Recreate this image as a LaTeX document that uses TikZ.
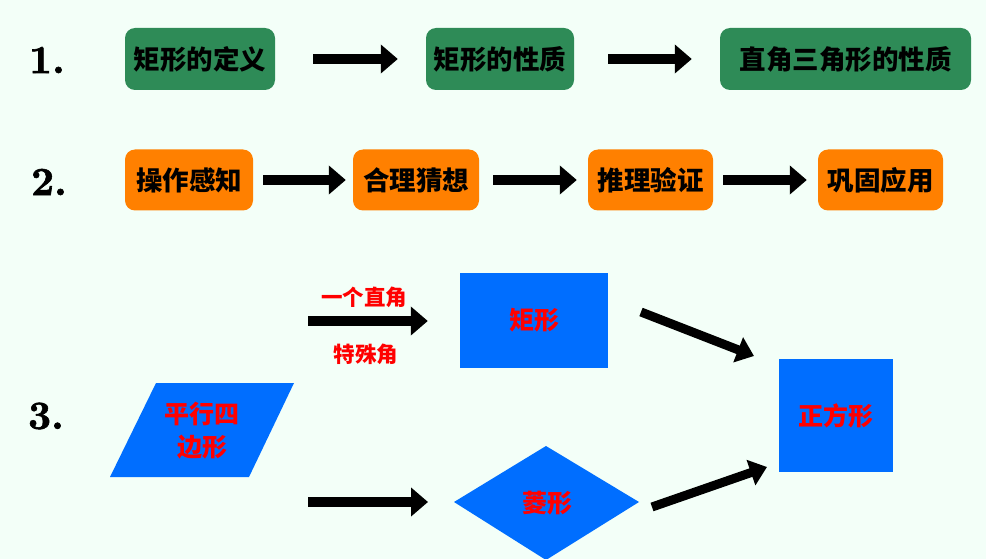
\documentclass[tikz,border=0pt]{standalone}
\usepackage{fontspec}
\newfontfamily\cjk{Noto Sans CJK SC}
\newfontfamily\numfont{lmroman10-bold.otf}[FakeBold=1.5]
\usetikzlibrary{arrows.meta}
\definecolor{bgc}{HTML}{F3FFF8}
\definecolor{gbox}{HTML}{2E8B57}
\definecolor{obox}{HTML}{FF8000}
\definecolor{bbox}{HTML}{006EFF}
\definecolor{rtxt}{HTML}{FF0000}
\begin{document}
\begin{tikzpicture}[x=1pt,y=-1pt,
  greenbox/.style={fill=gbox,rounded corners=10pt,inner sep=0pt,minimum height=62pt,font=\cjk\bfseries\fontsize{26.5}{30}\selectfont,text=black},
  orangebox/.style={fill=obox,rounded corners=10pt,inner sep=0pt,minimum height=61pt,minimum width=127pt,font=\cjk\bfseries\fontsize{26.5}{30}\selectfont,text=black},
  redlabel/.style={font=\cjk\bfseries\fontsize{25}{33}\selectfont,text=rtxt,align=center},
  smalllabel/.style={font=\cjk\bfseries\fontsize{21.5}{24}\selectfont,text=rtxt},
  numlabel/.style={font=\numfont\fontsize{40}{44}\selectfont,text=black},
  arr/.style={line width=10pt,-{Triangle[width=28pt,length=17pt]}},
  darr/.style={line width=9pt,-{Triangle[width=26pt,length=17pt]}}]
\fill[bgc] (0,0) rectangle (986,559);
\useasboundingbox (0,0) rectangle (986,559);

% numbers
\node[numlabel] (n1) at (47,60) {1.};
\node[numlabel] (n2) at (49,182) {2.};
\node[numlabel] (n3) at (46,416) {3.};

% row 1
\node[greenbox,minimum width=150pt] (a1) at (200,59) {矩形的定义};
\node[greenbox,minimum width=148pt] (a2) at (500,59) {矩形的性质};
\node[greenbox,minimum width=251pt] (a3) at (845.5,59) {直角三角形的性质};
\draw[arr,shorten <=38pt,shorten >=28pt] (a1.east) -- (a2.west);
\draw[arr,shorten <=34pt,shorten >=28pt] (a2.east) -- (a3.west);

% row 2
\node[orangebox,minimum width=128pt] (b1) at (189,180) {操作感知};
\node[orangebox,minimum width=126pt] (b2) at (416,180) {合理猜想};
\node[orangebox,minimum width=125pt] (b3) at (650.5,180) {推理验证};
\node[orangebox,minimum width=125pt] (b4) at (880.5,180) {巩固应用};
\draw[arr,shorten <=10pt,shorten >=7pt] (b1.east) -- (b2.west);
\draw[arr,shorten <=14pt,shorten >=11pt] (b2.east) -- (b3.west);
\draw[arr,shorten <=10pt,shorten >=11pt] (b3.east) -- (b4.west);

% row 3 shapes
\fill[bbox] (110,477) -- (156,383) -- (294,383) -- (249,477) -- cycle;
\node[redlabel] (para) at (202,431) {平行四\\边形};

\node[fill=bbox,minimum width=148pt,minimum height=95pt,inner sep=0pt] (rect) at (534,320.5) {};
\node[redlabel] (rectt) at (rect.center) {矩形};

\fill[bbox] (454,502) -- (546,446) -- (639,502) -- (546,560) -- cycle;
\coordinate (diaW) at (454,502);
\coordinate (diaE) at (639,502);
\node[redlabel] (dia) at (547,503) {菱形};

\node[fill=bbox,minimum width=114pt,minimum height=113pt,inner sep=0pt] (sq) at (836,415.5) {};
\node[redlabel] (sqt) at (sq.center) {正方形};

% row 3 arrows
\coordinate (t1) at (308,321);
\coordinate (t2) at (308,502);
\draw[arr,shorten >=32pt] (t1) -- (t1 -| rect.west);
\draw[arr,shorten >=26pt] (t2) -- (diaW);
\node[smalllabel] (l1) at (364,297) {一个直角};
\node[smalllabel] (l2) at (366,354) {特殊角};

\coordinate (d1s) at (641,312);
\coordinate (d1e) at (754,356);
\coordinate (d2s) at (652,507);
\coordinate (d2e) at (767,467);
\draw[darr] (d1s) -- (d1e);
\draw[darr] (d2s) -- (d2e);
\end{tikzpicture}
\end{document}
